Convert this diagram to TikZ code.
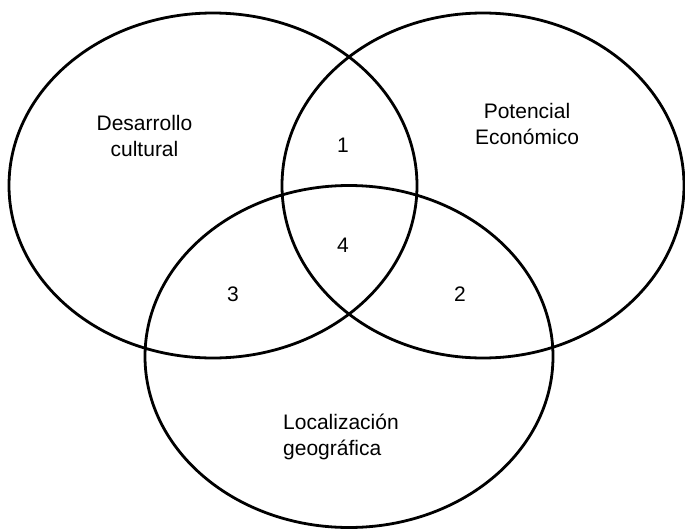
\documentclass[tikz,border=0pt]{standalone}
\usepackage{fontspec}
\setmainfont{Liberation Sans}
\begin{document}
\begin{tikzpicture}[x=1pt,y=-1pt,
  ring/.style={draw=black,line width=2.8pt},
  lbl/.style={font=\fontsize{21}{26.5}\selectfont,inner sep=0pt,align=center}]
\useasboundingbox (0,0) rectangle (685,530);
\draw[ring] (213,185.5) ellipse [x radius=204, y radius=172.5];
\draw[ring] (483,185.5) ellipse [x radius=201, y radius=172.5];
\draw[ring] (349,356.5) ellipse [x radius=204, y radius=171];
\node[lbl] (dc) at (144.5,136) {Desarrollo\\cultural};
\node[lbl] (pe) at (527,124) {Potencial\\Económico};
\node[lbl,align=left,anchor=west] (lg) at (283,437) {Localización\\geográfica};
\node[lbl] (n1) at (343,145) {1};
\node[lbl] (n4) at (343,245) {4};
\node[lbl] (n3) at (233,294) {3};
\node[lbl] (n2) at (460,294) {2};
\end{tikzpicture}
\end{document}
